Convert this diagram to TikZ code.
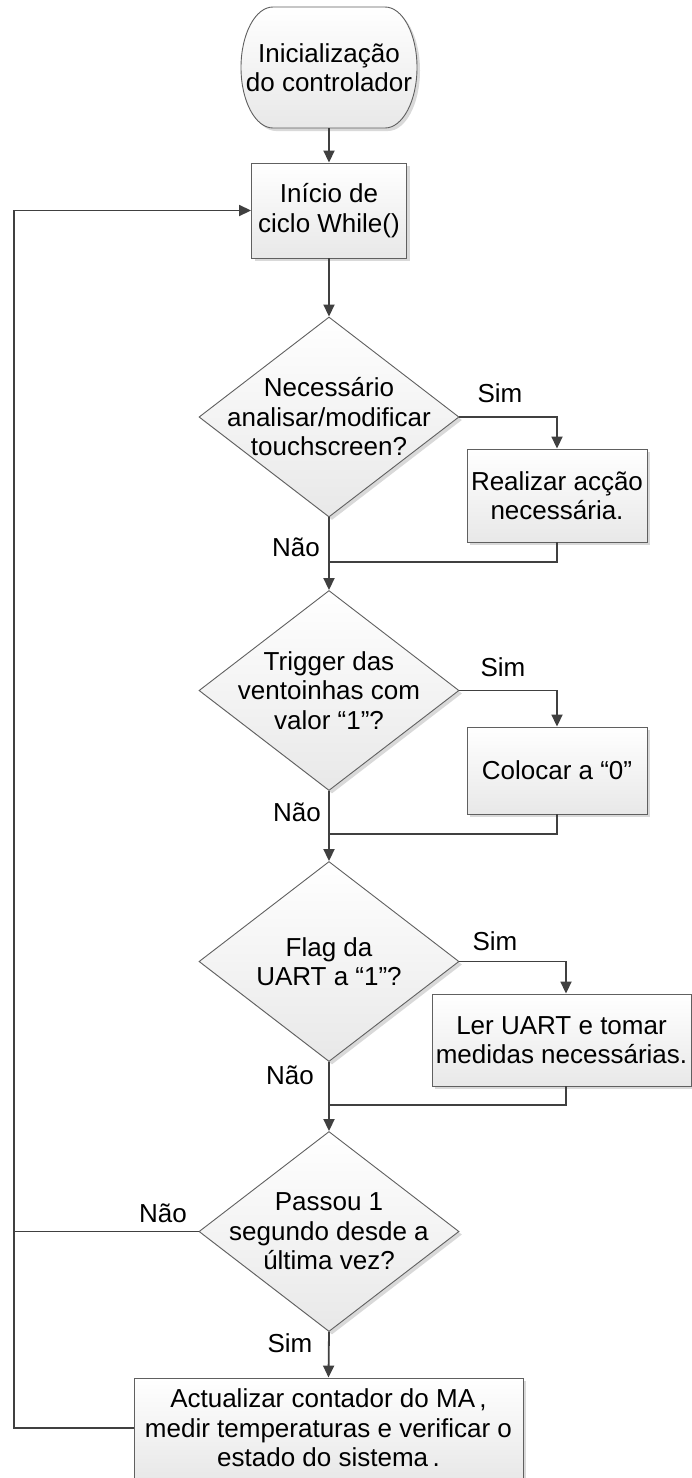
\documentclass[tikz,border=0pt]{standalone}
\usepackage{fontspec}
\setmainfont{Liberation Sans}
\usetikzlibrary{shapes.geometric,arrows.meta,shadows,calc}
\definecolor{edgec}{HTML}{404040}
\definecolor{bordc}{HTML}{606060}
\newcommand\ftxt{\fontsize{26pt}{29.5pt}\selectfont}
\tikzset{
  basefill/.style={draw=bordc, line width=0.9pt, top color=white, bottom color=black!9,
    drop shadow={shadow xshift=3pt, shadow yshift=-3pt, fill=black, opacity=0.15}},
  procbox/.style={basefill, rectangle, inner sep=0pt, align=center, font=\ftxt},
  dia/.style={basefill, diamond, inner sep=0pt, minimum width=260pt, minimum height=200pt},
  txt/.style={align=center, font=\ftxt, inner sep=0pt},
  conn/.style={draw=edgec, line width=1.8pt},
  arr/.style={conn, -{Triangle[length=12pt,width=11pt]}},
}
\begin{document}
\begin{tikzpicture}[x=1pt,y=-1pt]
\fill[white] (0,0) rectangle (692,1478);
\useasboundingbox (0,0) rectangle (692,1478);

% terminal
\path[basefill] (273,7) -- (385,7) arc[start angle=-90,end angle=90,x radius=32,y radius=60.5]
  -- (273,128) arc[start angle=90,end angle=270,x radius=32,y radius=60.5] -- cycle;
\node[txt, minimum width=176pt, minimum height=121pt] (start) at (329,67.5) {Inicialização\\do controlador};

\node[procbox, minimum width=155pt, minimum height=95pt] (box2) at (329,210.5) {Início de\\ciclo While()};

\node[dia] (d1) at (329,417) {};
\node[txt] (d1t) at (d1) {Necessário\\analisar/modificar\\touchscreen?};
\node[procbox, minimum width=180pt, minimum height=93pt] (b1) at (557,495.5) {Realizar acção\\necessária.};

\node[dia] (d2) at (329,690.5) {};
\node[txt] (d2t) at (d2) {Trigger das\\ventoinhas com\\valor “1”?};
\node[procbox, minimum width=180pt, minimum height=87pt] (b2) at (557,770.5) {Colocar a “0”};

\node[dia] (d3) at (329,961.5) {};
\node[txt] (d3t) at (d3) {Flag da\\UART a “1”?};
\node[procbox, minimum width=259pt, minimum height=92pt] (b3) at (561.5,1040) {Ler UART e tomar\\medidas necessárias.};

\node[dia] (d4) at (329,1231.5) {};
\node[txt] (d4t) at (d4) {Passou 1\\segundo desde a\\última vez?};

\node[procbox, minimum width=389pt, minimum height=100pt] (b4) at (328.5,1428) {Actualizar contador do MA\,,\\medir temperaturas e verificar o\\estado do sistema\,.};

% coordinates
\coordinate (m1) at (329,562);
\coordinate (m2) at (329,834);
\coordinate (m3) at (329,1105);
\coordinate (j4) at (14,1231.5);
\coordinate (loopc) at (14,210.5);

% connectors
\draw[arr] (start.south) -- (box2.north);
\draw[arr] (box2.south) -- (d1.north);
\draw[arr] (d1.east) -| (b1.north);
\draw[conn] (b1.south) |- (m1);
\draw[arr] (d1.south) -- (d2.north);
\draw[arr] (d2.east) -| (b2.north);
\draw[conn] (b2.south) |- (m2);
\draw[arr] (d2.south) -- (d3.north);
\draw[arr] (d3.east) -| ($(b3.north)+(4.5,0)$);
\draw[conn] ($(b3.south)+(4.5,0)$) |- (m3);
\draw[arr] (d3.south) -- (d4.north);
\draw[arr] (d4.south) -- (b4.north);
\draw[conn] (d4.west) -- (j4);
\draw[arr] (b4.west) -| (loopc) -- (box2.west);

% labels
\node[txt] (s1) at (500,393) {Sim};
\node[txt] (n1) at (296,547) {Não};
\node[txt] (s2) at (503,667) {Sim};
\node[txt] (n2) at (297,812) {Não};
\node[txt] (s3) at (495,941) {Sim};
\node[txt] (n3) at (290,1075) {Não};
\node[txt] (n4) at (163,1213) {Não};
\node[txt] (s4) at (290,1343) {Sim};
\end{tikzpicture}
\end{document}
